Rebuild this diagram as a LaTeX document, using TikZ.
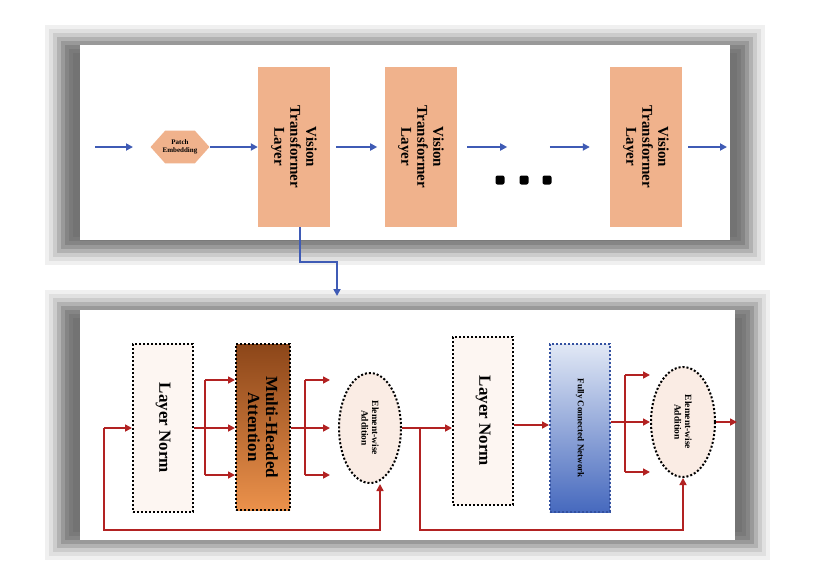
\documentclass[tikz,border=0pt]{standalone}
\usepackage{fontspec}
\setmainfont{Liberation Serif}
\usetikzlibrary{shapes.geometric,arrows.meta}
\begin{document}
\begin{tikzpicture}[x=1pt,y=-1pt,
 blu/.style={draw={rgb,255:red,63;green,91;blue,181},line width=2pt,-{Triangle[length=7pt,width=7pt]}},
 red/.style={draw={rgb,255:red,178;green,34;blue,34},line width=1.6pt},
 rar/.style={red,-{Triangle[length=7pt,width=7pt]}},
 vtl/.style={draw=none,fill={rgb,255:red,240;green,178;blue,140},minimum width=72pt,minimum height=160pt,inner sep=0pt},
 dotbox/.style={draw=black,line width=2pt,dash pattern=on 2pt off 2pt,fill={rgb,255:red,253;green,246;blue,242},minimum width=60pt,minimum height=168pt,inner sep=0pt},
 ell/.style={ellipse,draw=black,line width=2pt,dash pattern=on 2pt off 2pt,fill={rgb,255:red,250;green,236;blue,228},minimum width=62pt,minimum height=110pt,inner sep=0pt},
 txt/.style={rotate=-90,font=\bfseries,align=center}]
\useasboundingbox (0,0) rectangle (830,573);
\fill[white] (0,0) rectangle (830,573);
% shadows
\foreach \p/\c in {0/6,4/12,8/20,12/30,16/40,20/48,24/52,28/55}{
 \fill[black!\c] (45+\p,25+\p) rectangle (765-\p,265-\p);
 \fill[black!\c] (45+\p,290+\p) rectangle (770-\p,560-\p);}
\fill[white] (80,45) rectangle (730,240);
\fill[white] (80,310) rectangle (735,540);
% top
\coordinate (i0) at (95,147);
\node[regular polygon,regular polygon sides=6,fill={rgb,255:red,240;green,178;blue,140},inner sep=0pt,minimum height=38pt,xscale=1.55] (pe) at (180,147) {};
\node[font=\bfseries\fontsize{7}{8}\selectfont,align=center] (pet) at (180,147) {Patch\\Embedding};
\foreach \n/\x in {v1/294,v2/421,v3/646}{
 \node[vtl] (\n) at (\x,147) {};
 \node[txt,font=\bfseries\fontsize{15}{16}\selectfont] at (\n) {Vision\\Transformer\\Layer};}
\foreach \x [count=\i] in {500,524,547} \node[fill=black,rounded corners=2pt,minimum size=9pt,inner sep=0pt] (d\i) at (\x,180) {};
\coordinate (o1) at (727,147);
\draw[blu] (i0) -- (133,147);
\draw[blu] (210,147) -- (v1.west);
\draw[blu] (v1.east) ++(6,0) -- ++(41,0);
\draw[blu] (v2.east) ++(10,0) -- ++(40,0);
\draw[blu] (v3.west) ++(-60,0) -- ++(40,0);
\draw[blu] (v3.east) ++(6,0) -- (o1);
\coordinate (dn) at (337,296);
\draw[blu] (v1.south -| 300,0) -- (300,262) -- (337,262) -- (dn);
% bottom
\node[dotbox] (ln1) at (163,428) {};
\node[txt,font=\bfseries\fontsize{17}{18}\selectfont] at (ln1) {Layer Norm};
\node[dotbox,minimum width=54pt,minimum height=166pt,top color={rgb,255:red,140;green,70;blue,25},bottom color={rgb,255:red,235;green,145;blue,75}] (mha) at (263,427) {};
\node[txt,font=\bfseries\fontsize{17}{18}\selectfont] at (mha) {Multi-Headed\\Attention};
\node[ell] (e1) at (370,428) {};
\node[txt,font=\bfseries\fontsize{9.5}{10.5}\selectfont] at (e1) {Element-wise\\Addition};
\node[dotbox] (ln2) at (483,421) {};
\node[txt,font=\bfseries\fontsize{17}{18}\selectfont] at (ln2) {Layer Norm};
\node[dotbox,draw={rgb,255:red,50;green,80;blue,160},minimum width=60pt,top color={rgb,255:red,225;green,232;blue,245},bottom color={rgb,255:red,70;green,105;blue,190}] (fc) at (580,428) {};
\node[txt,font=\bfseries\fontsize{9}{10}\selectfont] at (fc) {Fully Connected Network};
\node[ell,minimum width=64pt] (e2) at (683,422) {};
\node[txt,font=\bfseries\fontsize{9.5}{10.5}\selectfont] at (e2) {Element-wise\\Addition};
\coordinate (in) at (104,428);
\coordinate (out) at (737,422);
\draw[rar] (in) -- (ln1.west |- in);
\draw[rar] (in) -- (104,530) -- (380,530) -- (380,484);
\draw[red] (ln1.east |- 0,428) -- (205,428);
\draw[red] (205,380) -- (205,475);
\foreach \y in {380,428,475} \draw[rar] (205,\y) -- (mha.west |- 0,\y);
\draw[red] (mha.east |- 0,428) -- (305,428);
\draw[red] (305,380) -- (305,475);
\foreach \y in {380,428,475} \draw[rar] (305,\y) -- (330,\y);
\draw[rar] (e1.east) -- (ln2.west |- e1.east);
\draw[rar] (420,428) -- (420,530) -- (683,530) -- (e2.south);
\draw[rar] (ln2.east |- 0,425) -- (fc.west |- 0,425);
\draw[red] (fc.east |- 0,422) -- (625,422);
\draw[red] (625,375) -- (625,472);
\foreach \y in {375,422,472} \draw[rar] (625,\y) -- (650,\y);
\draw[rar] (e2.east) -- (out);
\end{tikzpicture}
\end{document}
